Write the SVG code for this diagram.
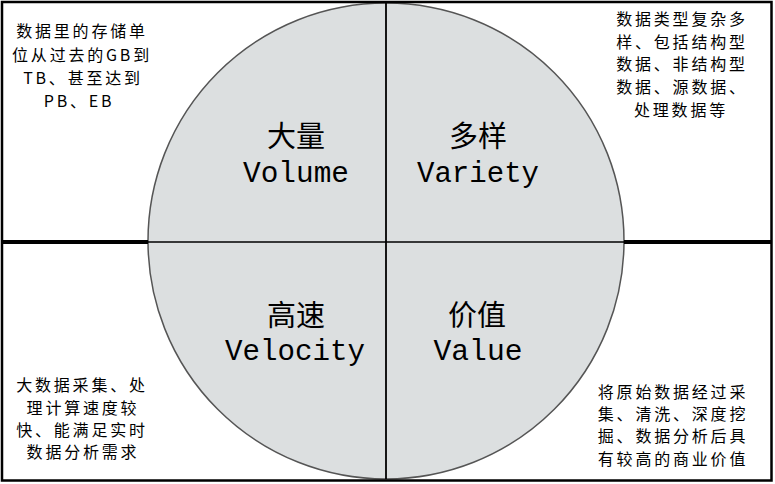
<svg xmlns="http://www.w3.org/2000/svg" width="775" height="484" viewBox="0 0 775 484">
<style>
.cn{font-family:"Noto Sans CJK SC","Noto Sans CJK JP",sans-serif;font-size:16px;fill:#000;text-anchor:middle;letter-spacing:2.8px}
.hd{font-family:"Noto Sans CJK SC",serif;font-size:29px;fill:#000;text-anchor:middle}
.en{font-family:"Liberation Mono",monospace;font-size:29px;fill:#000;text-anchor:middle}
</style>
<rect width="775" height="484" fill="#fff"/>
<g id="circle">
<circle cx="386" cy="241" r="238" fill="#dcdfe0" stroke="#555" stroke-width="1.5"/>
</g>
<g id="connectors" stroke="#000">
<rect x="2" y="2" width="769.5" height="478.5" fill="none" stroke-width="2.5"/>
<line x1="386" y1="3" x2="386" y2="479" stroke-width="1.8"/>
<line x1="148" y1="242" x2="624" y2="242" stroke-width="1.5"/>
<line x1="2" y1="242" x2="148" y2="242" stroke-width="4"/>
<line x1="624" y1="242" x2="771" y2="242" stroke-width="4"/>
</g>
<g id="volume">
<text class="hd" x="296" y="147">大量</text>
<text class="en" x="296" y="182" textLength="106" lengthAdjust="spacingAndGlyphs">Volume</text>
</g>
<g id="variety">
<text class="hd" x="478" y="147">多样</text>
<text class="en" x="478" y="182" textLength="122" lengthAdjust="spacingAndGlyphs">Variety</text>
</g>
<g id="velocity">
<text class="hd" x="296" y="326">高速</text>
<text class="en" x="295" y="360" textLength="140" lengthAdjust="spacingAndGlyphs">Velocity</text>
</g>
<g id="value">
<text class="hd" x="477" y="326">价值</text>
<text class="en" x="478" y="360" textLength="89" lengthAdjust="spacingAndGlyphs">Value</text>
</g>
<g id="note-volume">
<text class="cn" x="82" y="37">数据里的存储单</text>
<text class="cn" x="82" y="61">位从过去的GB到</text>
<text class="cn" x="83" y="84">TB、甚至达到</text>
<text class="cn" x="79" y="107">PB、EB</text>
</g>
<g id="note-variety">
<text class="cn" x="682" y="25">数据类型复杂多</text>
<text class="cn" x="682" y="48">样、包括结构型</text>
<text class="cn" x="682" y="70">数据、非结构型</text>
<text class="cn" x="682" y="93">数据、源数据、</text>
<text class="cn" x="681" y="116">处理数据等</text>
</g>
<g id="note-velocity">
<text class="cn" x="82" y="391">大数据采集、处</text>
<text class="cn" x="83" y="414">理计算速度较</text>
<text class="cn" x="82" y="436">快、能满足实时</text>
<text class="cn" x="83" y="458">数据分析需求</text>
</g>
<g id="note-value">
<text class="cn" x="673" y="398">将原始数据经过采</text>
<text class="cn" x="673" y="420">集、清洗、深度挖</text>
<text class="cn" x="673" y="442">掘、数据分析后具</text>
<text class="cn" x="673" y="465">有较高的商业价值</text>
</g>
</svg>
